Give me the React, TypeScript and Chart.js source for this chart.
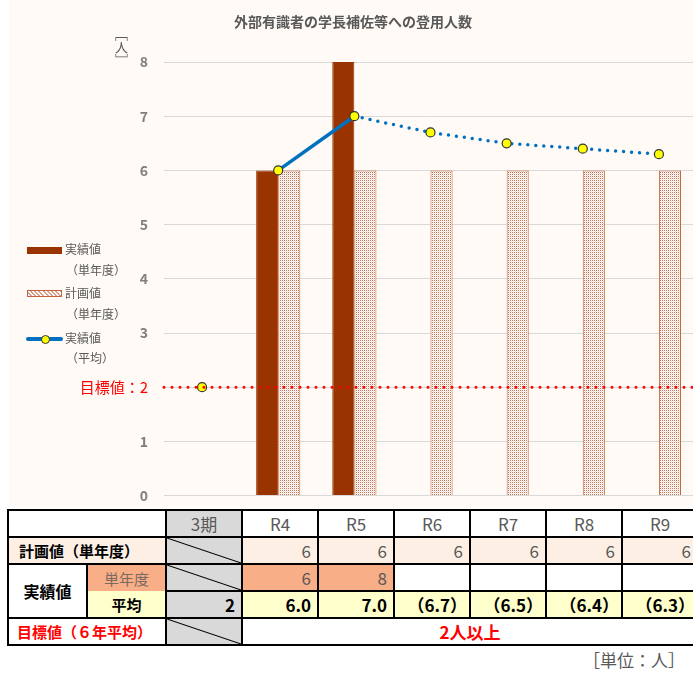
import React, { useEffect, useRef } from 'react';
import { Chart, registerables } from 'chart.js';
Chart.register(...registerables);

const categories = ['3期', 'R4', 'R5', 'R6', 'R7', 'R8', 'R9'];
const planValues = [null, 6, 6, 6, 6, 6, 6];
const actualValues = [null, 6, 8, null, null, null, null];
const averageValues = [2, 6, 7, 6.7, 6.5, 6.4, 6.3];
const targetValue = 2;
const yMin = 0;
const yMax = 8;
const planLabels = ['', '6', '6', '6', '6', '6', '6'];
const actualLabels = ['', '6', '8', '', '', '', ''];
const averageLabels = ['2', '6.0', '7.0', '（6.7）', '（6.5）', '（6.4）', '（6.3）'];
const targetText = '2人以上';
const chartTitle = '外部有識者の学長補佐等への登用人数';

const FONT = '"Noto Sans CJK JP", "Noto Sans", sans-serif';
const GRAY = '#595959';

function makePattern(): CanvasPattern | string {
  const c = document.createElement('canvas');
  c.width = 2;
  c.height = 2;
  const g = c.getContext('2d');
  if (!g) return '#f3d6cc';
  g.fillStyle = '#ffffff';
  g.fillRect(0, 0, 2, 2);
  g.fillStyle = '#c77455';
  g.fillRect(0, 0, 1, 1);
  g.fillStyle = '#f4ddd3';
  g.fillRect(1, 1, 1, 1);
  return g.createPattern(c, 'repeat') || '#f3d6cc';
}

const targetPlugin = {
  id: 'targetLine',
  afterDatasetsDraw(chart: any) {
    const { ctx, chartArea, scales } = chart;
    const y = scales.y.getPixelForValue(targetValue);
    ctx.save();
    ctx.strokeStyle = '#ff0000';
    ctx.lineWidth = 3;
    ctx.lineCap = 'round';
    ctx.setLineDash([0, 8]);
    ctx.beginPath();
    ctx.moveTo(chartArea.left, y);
    ctx.lineTo(chartArea.right, y);
    ctx.stroke();
    ctx.restore();
  },
};

function ChartCanvas() {
  const ref = useRef<HTMLCanvasElement | null>(null);
  useEffect(() => {
    if (!ref.current) return;
    const pattern = makePattern();
    const chart = new Chart(ref.current, {
      type: 'bar',
      data: {
        labels: categories,
        datasets: [
          {
            type: 'line',
            label: '実績値（平均）',
            data: averageValues,
            borderColor: '#0070c0',
            borderWidth: 3.5,
            borderCapStyle: 'round',
            pointRadius: 4.5,
            pointBackgroundColor: '#ffff00',
            pointBorderColor: '#333333',
            pointBorderWidth: 1.2,
            tension: 0,
            segment: {
              borderColor: (c: any) => (c.p0DataIndex === 0 ? 'rgba(0,0,0,0)' : '#0070c0'),
              borderDash: (c: any) => (c.p0DataIndex >= 2 ? [0, 8] : []),
            },
            order: 0,
          } as any,
          {
            type: 'bar',
            label: '実績値（単年度）',
            data: actualValues,
            backgroundColor: '#993300',
            borderColor: '#993300',
            borderWidth: 1,
            categoryPercentage: 0.58,
            barPercentage: 1,
            order: 2,
          } as any,
          {
            type: 'bar',
            label: '計画値（単年度）',
            data: planValues,
            backgroundColor: pattern,
            borderColor: '#c6653d',
            borderWidth: 1,
            categoryPercentage: 0.58,
            barPercentage: 1,
            order: 2,
          } as any,
        ],
      },
      options: {
        responsive: false,
        animation: false,
        layout: { padding: { top: 62, bottom: 10, left: 0, right: 8 } },
        plugins: {
          legend: { display: false },
          tooltip: { enabled: false },
          title: { display: false },
        },
        scales: {
          x: { display: false },
          y: {
            min: yMin,
            max: yMax,
            border: { display: false },
            grid: { color: '#d9d9d9', drawTicks: false, lineWidth: 1 },
            afterFit: (s: any) => {
              s.width = 164;
            },
            ticks: {
              stepSize: 1,
              padding: 16,
              callback: (v: any) => (v === targetValue ? '目標値：' + v : String(v)),
              color: (c: any) => (c.tick && c.tick.value === targetValue ? '#ff0000' : '#7f7f7f'),
              font: (c: any) =>
                c.tick && c.tick.value === targetValue
                  ? { family: FONT, size: 15, weight: 'normal' }
                  : { family: FONT, size: 14, weight: 'bold' },
            },
          },
        },
      } as any,
      plugins: [targetPlugin],
    });
    return () => chart.destroy();
  }, []);
  return <canvas ref={ref} width={705} height={520} style={{ display: 'block', width: 705, height: 520 }} />;
}

const bd = '2px solid #000';
const cellBase: React.CSSProperties = {
  border: bd,
  padding: '0 6px',
  height: 25,
  fontFamily: FONT,
  fontSize: 16,
  lineHeight: '25px',
  whiteSpace: 'nowrap',
  overflow: 'hidden',
};
const diag: React.CSSProperties = {
  background:
    'linear-gradient(to top right, #d9d9d9 calc(50% - 1px), #000 50%, #d9d9d9 calc(50% + 1px))',
};

function DataTable() {
  const dataCols = categories.slice(1);
  return (
    <table
      style={{
        position: 'absolute',
        left: 7,
        top: 509,
        borderCollapse: 'collapse',
        tableLayout: 'fixed',
        width: 692,
        background: '#fff',
      }}
    >
      <colgroup>
        <col style={{ width: 79 }} />
        <col style={{ width: 79 }} />
        {categories.map((c) => (
          <col key={c} style={{ width: 76 }} />
        ))}
      </colgroup>
      <tbody>
        <tr>
          <td colSpan={2} style={{ ...cellBase }} />
          {categories.map((c, i) => (
            <td
              key={c}
              style={{
                ...cellBase,
                textAlign: 'center',
                color: GRAY,
                fontSize: 17,
                background: i === 0 ? '#d9d9d9' : '#fff',
              }}
            >
              {c}
            </td>
          ))}
        </tr>
        <tr>
          <td
            colSpan={2}
            style={{ ...cellBase, fontWeight: 'bold', fontSize: 15, background: '#fdefe4', color: '#000', textAlign: 'left', paddingLeft: 10 }}
          >
            計画値（単年度）
          </td>
          <td style={{ ...cellBase, ...diag }} />
          {dataCols.map((c, i) => (
            <td key={c} style={{ ...cellBase, textAlign: 'right', fontSize: 17, background: '#fdefe4', color: GRAY }}>
              {planLabels[i + 1]}
            </td>
          ))}
        </tr>
        <tr>
          <td
            rowSpan={2}
            style={{ ...cellBase, fontWeight: 'bold', fontSize: 16, textAlign: 'center', background: '#fff', color: '#000' }}
          >
            実績値
          </td>
          <td style={{ ...cellBase, textAlign: 'center', fontSize: 15, background: '#f8ae86', color: '#7a6a60', borderBottom: 'none' }}>
            単年度
          </td>
          <td style={{ ...cellBase, ...diag }} />
          {dataCols.map((c, i) => (
            <td
              key={c}
              style={{
                ...cellBase,
                textAlign: 'right',
                fontSize: 17,
                color: GRAY,
                background: actualLabels[i + 1] ? '#f8ae86' : '#fff',
              }}
            >
              {actualLabels[i + 1]}
            </td>
          ))}
        </tr>
        <tr>
          <td style={{ ...cellBase, textAlign: 'center', fontWeight: 'bold', fontSize: 15, background: '#ffffcc', color: '#000', borderTop: 'none' }}>
            平均
          </td>
          {categories.map((c, i) => (
            <td
              key={c}
              style={{
                ...cellBase,
                textAlign: 'right',
                fontWeight: 'bold',
                fontSize: 17,
                color: '#000',
                background: i === 0 ? '#d9d9d9' : '#ffffcc',
                paddingRight: i >= 3 ? 2 : 6,
              }}
            >
              {averageLabels[i]}
            </td>
          ))}
        </tr>
        <tr>
          <td
            colSpan={2}
            style={{ ...cellBase, fontWeight: 'bold', fontSize: 15, color: '#ff0000', textAlign: 'left', paddingLeft: 8, background: '#fff' }}
          >
            目標値（６年平均）
          </td>
          <td style={{ ...cellBase, ...diag }} />
          <td
            colSpan={6}
            style={{ ...cellBase, textAlign: 'center', fontWeight: 'bold', fontSize: 17, color: '#ff0000', background: '#fff' }}
          >
            {targetText}
          </td>
        </tr>
      </tbody>
    </table>
  );
}

function Legend() {
  const text: React.CSSProperties = {
    position: 'absolute',
    fontFamily: FONT,
    fontSize: 12,
    color: GRAY,
    lineHeight: '14px',
    whiteSpace: 'nowrap',
  };
  return (
    <>
      <div style={{ position: 'absolute', left: 27, top: 247, width: 35, height: 7, background: '#993300' }} />
      <div style={{ ...text, left: 65, top: 242 }}>実績値</div>
      <div style={{ ...text, left: 66, top: 263 }}>（単年度）</div>
      <div
        style={{
          position: 'absolute',
          left: 27,
          top: 290,
          width: 33,
          height: 5,
          border: '1px solid #c6653d',
          background:
            'repeating-linear-gradient(45deg, #fff 0 1.5px, #d9a08a 1.5px 3px), #fff',
        }}
      />
      <div style={{ ...text, left: 65, top: 286 }}>計画値</div>
      <div style={{ ...text, left: 66, top: 307 }}>（単年度）</div>
      <div style={{ position: 'absolute', left: 26, top: 337, width: 37, height: 4, background: '#0070c0', borderRadius: 2 }} />
      <div
        style={{
          position: 'absolute',
          left: 41,
          top: 335,
          width: 7,
          height: 7,
          borderRadius: '50%',
          background: '#ffff00',
          border: '1px solid #333',
        }}
      />
      <div style={{ ...text, left: 65, top: 331 }}>実績値</div>
      <div style={{ ...text, left: 66, top: 351 }}>（平均）</div>
    </>
  );
}

export default function App() {
  return (
    <div
      style={{
        position: 'absolute',
        left: 0,
        top: 0,
        width: 693,
        height: 673,
        overflow: 'hidden',
        background: '#fff',
      }}
    >
      <div style={{ position: 'absolute', left: 9, top: 0, width: 700, height: 506, background: '#fffaf5' }} />
      <div style={{ position: 'absolute', left: 0, top: 0 }}>
        <ChartCanvas />
      </div>
      <div
        style={{
          position: 'absolute',
          left: 153,
          width: 400,
          top: 11,
          textAlign: 'center',
          fontFamily: FONT,
          fontWeight: 'bold',
          fontSize: 14,
          color: GRAY,
        }}
      >
        {chartTitle}
      </div>
      <div
        style={{
          position: 'absolute',
          left: 113,
          top: 28,
          writingMode: 'vertical-rl',
          fontFamily: FONT,
          fontSize: 13,
          color: GRAY,
          lineHeight: '16px',
        }}
      >
        ［人］
      </div>
      <Legend />
      <DataTable />
      <div
        style={{
          position: 'absolute',
          right: 8,
          top: 647,
          fontFamily: FONT,
          fontSize: 17,
          color: GRAY,
        }}
      >
        ［単位：人］
      </div>
    </div>
  );
}
